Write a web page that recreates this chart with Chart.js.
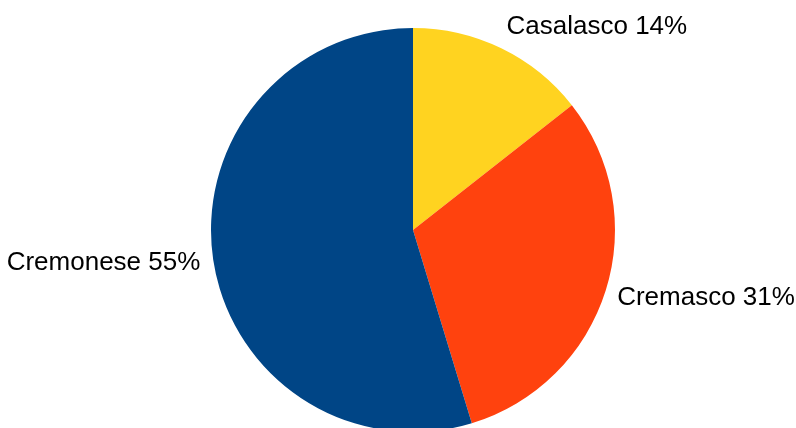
<!DOCTYPE html>
<html>
<head>
<meta charset="utf-8">
<title>Ripartizione</title>
<script src="https://cdn.jsdelivr.net/npm/chart.js@4"></script>
<style>
  html, body { margin: 0; padding: 0; background: #fff; overflow: hidden; }
  #wrap { width: 796px; height: 440px; position: relative; }
</style>
</head>
<body>
<div id="wrap"><canvas id="chart"></canvas></div>
<script>
// data (slice angles), labels show rounded percents
const labels = ['Casalasco', 'Cremasco', 'Cremonese'];
const shares = [14.4, 30.9, 54.7];
const colors = ['#ffd320', '#ff420e', '#004586'];

// outside labels, placed along each slice's middle angle
const outsideLabels = {
  id: 'outsideLabels',
  afterDraw(chart) {
    const ctx = chart.ctx;
    const meta = chart.getDatasetMeta(0);
    ctx.save();
    ctx.font = '26px "Liberation Sans", Arial, sans-serif';
    ctx.fillStyle = '#000';
    ctx.textBaseline = 'middle';
    meta.data.forEach((arc, i) => {
      const { x, y, startAngle, endAngle, outerRadius } = arc.getProps(['x', 'y', 'startAngle', 'endAngle', 'outerRadius'], true);
      const mid = (startAngle + endAngle) / 2;
      const dx = Math.cos(mid), dy = Math.sin(mid);
      const R = outerRadius + 12;
      const px = x + dx * R + (dx > 0 ? 0 : -1);
      const py = y + dy * R + dy * 12;
      ctx.textAlign = dx >= 0 ? 'left' : 'right';
      ctx.fillText(`${labels[i]} ${Math.round(shares[i])}%`, px, py);
    });
    ctx.restore();
  }
};

new Chart(document.getElementById('chart'), {
  type: 'pie',
  data: {
    labels: labels,
    datasets: [{
      data: shares,
      backgroundColor: colors,
      borderWidth: 0
    }]
  },
  options: {
    responsive: true,
    maintainAspectRatio: false,
    animation: false,
    layout: { padding: { top: 28, bottom: 8, left: 211, right: 181 } },
    plugins: {
      legend: { display: false },
      tooltip: { enabled: false }
    }
  },
  plugins: [outsideLabels]
});
</script>
</body>
</html>
